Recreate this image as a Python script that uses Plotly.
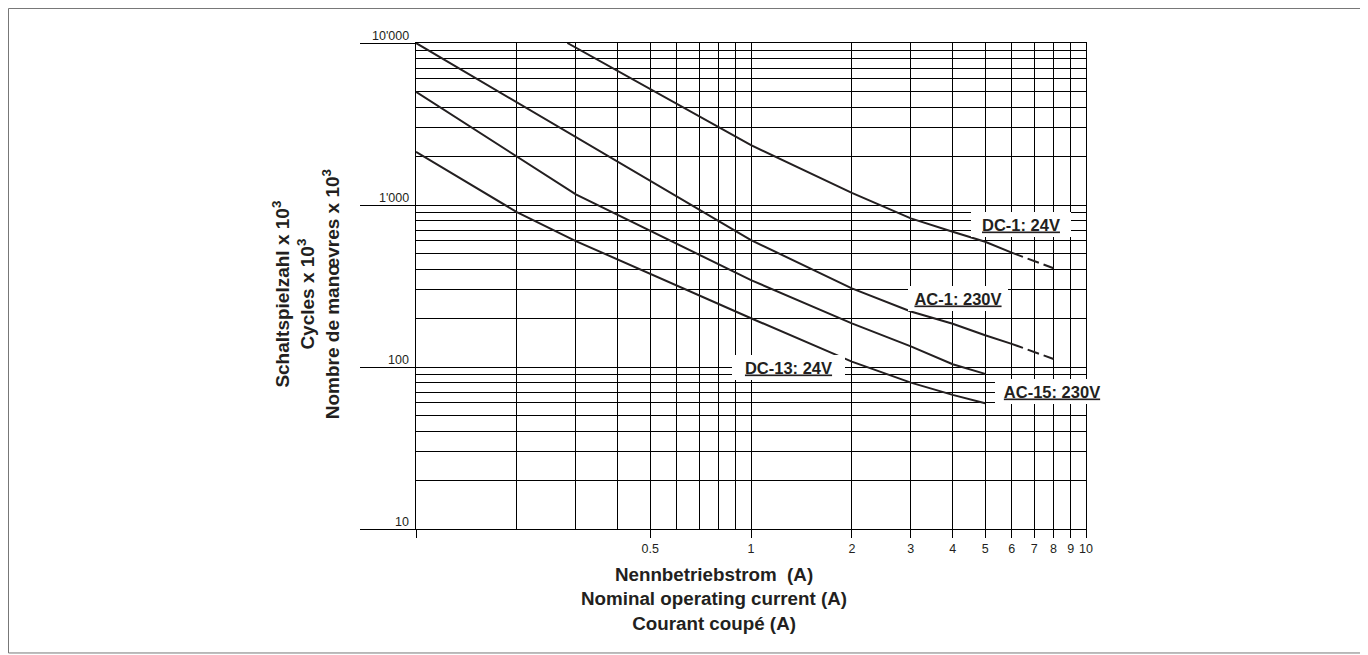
import numpy as np
import plotly.graph_objects as go

# ---------------- data ----------------
# DC-1: 24V  (solid part, then dashed extension)
dc1_x = [0.283, 1, 2, 3, 4, 5, 6]
dc1_y = [10000, 2340, 1189, 827, 684, 593, 508]
dc1_dash_x = [6, 8]
dc1_dash_y = [508, 407]

# AC-1: 230V
ac1_x = [0.1, 1, 2, 3, 4, 5, 6]
ac1_y = [10000, 607, 306, 220, 185, 157, 139]
ac1_dash_x = [6, 8]
ac1_dash_y = [139, 112]

# DC-13: 24V
dc13_x = [0.1, 0.3, 1, 2, 3, 4, 5]
dc13_y = [5000, 1162, 344, 186, 134, 104, 90.7]

# AC-15: 230V
ac15_x = [0.1, 0.2, 0.3, 1, 2, 3, 4, 5]
ac15_y = [2128, 904, 599, 200, 108, 80.1, 67.3, 59.8]

x_tick_vals = [0.1, 0.5, 1, 2, 3, 4, 5, 6, 7, 8, 9, 10]
x_tick_text = ["", "0.5", "1", "2", "3", "4", "5", "6", "7", "8", "9", "10"]
x_minor_vals = [0.2, 0.3, 0.4, 0.6, 0.7, 0.8, 0.9]

y_tick_vals = [10, 100, 1000, 10000]
y_tick_text = ["10", "100", "1'000", "10'000"]
y_minor_vals = [20, 30, 40, 50, 60, 70, 80, 90,
                200, 300, 400, 500, 600, 700, 800, 900,
                2000, 3000, 4000, 5000, 6000, 7000, 8000, 9000]

# curve labels: text, x center, y center, box width (px)
labels = ["DC-1: 24V", "AC-1: 230V", "DC-13: 24V", "AC-15: 230V"]
label_x = [6.4, 4.155, 1.292, 7.93]
label_y = [760, 265, 99.4, 70.5]
label_w = [100, 100, 113, 114]

# ---------------- figure ----------------
FONT = "Liberation Sans, Arial, Helvetica, sans-serif"
INK = "#231f20"
LW = 2

fig = go.Figure()
for xs, ys, dashed in [(dc1_x, dc1_y, False), (dc1_dash_x, dc1_dash_y, True),
                       (ac1_x, ac1_y, False), (ac1_dash_x, ac1_dash_y, True),
                       (dc13_x, dc13_y, False), (ac15_x, ac15_y, False)]:
    fig.add_trace(go.Scatter(x=xs, y=ys, mode="lines",
                             line=dict(color=INK, width=LW,
                                       dash="12px,5px" if dashed else "solid"),
                             showlegend=False, hoverinfo="skip"))

grid = dict(showgrid=True, gridcolor="#000000", gridwidth=1.1)

fig.update_xaxes(type="log", range=[-1, 1],
                 tickmode="array", tickvals=x_tick_vals, ticktext=x_tick_text,
                 ticks="outside", ticklen=8, tickwidth=1.1, tickcolor="#000000",
                 tickfont=dict(family=FONT, size=12.5, color=INK),
                 showline=True, linecolor="#000000", linewidth=1.2, mirror=True,
                 zeroline=False,
                 minor=dict(tickvals=x_minor_vals, ticks="", **grid),
                 **grid)
fig.update_yaxes(type="log", range=[1, 4],
                 tickmode="array", tickvals=y_tick_vals, showticklabels=False,
                 ticks="outside", ticklen=55, tickwidth=1.2, tickcolor="#000000",
                 showline=True, linecolor="#000000", linewidth=1.2, mirror=True,
                 zeroline=False,
                 minor=dict(tickvals=y_minor_vals, ticks="", **grid),
                 **grid)

annotations = []
# y tick labels sitting above their long tick lines
for v, t in zip(y_tick_vals, y_tick_text):
    annotations.append(dict(x=0, xref="paper", y=np.log10(v), yref="y",
                            text=t, showarrow=False, xanchor="right", yanchor="bottom",
                            xshift=-5, yshift=-2,
                            font=dict(family=FONT, size=12.5, color=INK)))
# curve labels in white boxes
for t, lx, ly, w in zip(labels, label_x, label_y, label_w):
    annotations.append(dict(x=np.log10(lx), xref="x", y=np.log10(ly), yref="y",
                            text="<u>" + t + "</u>", showarrow=False,
                            xanchor="center", yanchor="middle",
                            width=w, height=25, bgcolor="white",
                            borderpad=0, borderwidth=0,
                            font=dict(family=FONT, size=16.5, color=INK, weight="bold")))
# axis titles
annotations.append(dict(x=0.4447, xref="paper", y=-0.1439, yref="paper",
                        text="Nennbetriebstrom \u00a0(A)<br>Nominal operating current (A)<br>Courant coupé (A)",
                        showarrow=False, xanchor="center", yanchor="middle",
                        font=dict(family=FONT, size=18.8, color=INK, weight="bold")))
annotations.append(dict(x=-0.1637, xref="paper", y=0.4836, yref="paper",
                        text="Schaltspielzahl x 10<sup>3</sup><br>Cycles x 10<sup>3</sup><br>Nombre de manœvres x 10<sup>3</sup>",
                        showarrow=False, textangle=-90, xanchor="center", yanchor="middle",
                        font=dict(family=FONT, size=19, color=INK, weight="bold")))

fig.update_layout(
    width=1360, height=647,
    margin=dict(l=408, r=282, t=35, b=126),
    paper_bgcolor="white", plot_bgcolor="white",
    annotations=annotations,
    shapes=[dict(type="rect", xref="paper", yref="paper",
                 x0=-0.6082, x1=1.4190, y0=-0.2551, y1=1.0710,
                 line=dict(color="#777777", width=1), layer="below")],
)

fig.write_html("out.html")
